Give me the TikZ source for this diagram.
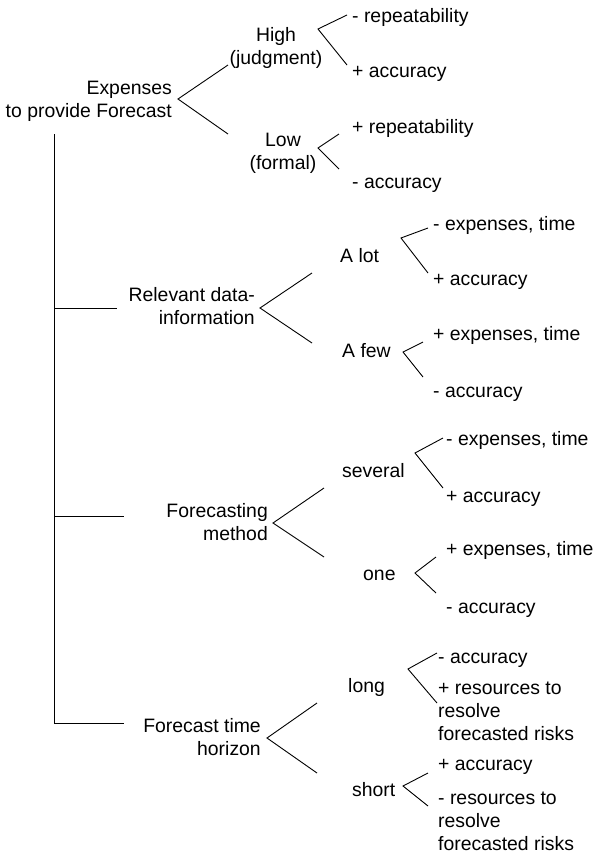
\documentclass[tikz,border=0pt]{standalone}
\usepackage{fontspec}
\setmainfont{Liberation Sans}
\usetikzlibrary{positioning,calc}

\begin{document}
\begin{tikzpicture}[x=1pt,y=-1pt,
    txt/.style={inner sep=0pt, font=\fontsize{19.4}{23}\selectfont},
    rtxt/.style={txt, align=right, anchor=base east},
    ctxt/.style={txt, align=center, anchor=base},
    leaf/.style={txt, align=left, anchor=base west},
    twig/.style={line width=0.9pt}]
  \useasboundingbox (0,0) rectangle (596,855);

  % Main questions
  \node[rtxt] (root) at (172,117) {Expenses\\to provide Forecast};
  \node[rtxt] (rel)  at (255,324) {Relevant data-\\information};
  \node[rtxt] (meth) at (268,540) {Forecasting\\method};
  \node[rtxt] (hor)  at (261,755) {Forecast time\\horizon};

  % Options
  \node[ctxt] (high) at (276,64)  {High\\(judgment)};
  \node[ctxt] (low)  at (283,169) {Low\\(formal)};
  \node[leaf] (alot) at (340,262) {A lot};
  \node[leaf] (afew) at (342,357) {A few};
  \node[leaf] (sev)  at (342,477) {several};
  \node[leaf] (one)  at (363,580) {one};
  \node[leaf] (long) at (348,692) {long};
  \node[leaf] (short) at (352,796) {short};

  % Consequences
  \node[leaf] (high1) at (352,22)  {- repeatability};
  \node[leaf] (high2) at (352,77)  {+ accuracy};
  \node[leaf] (low1)  at (352,133) {+ repeatability};
  \node[leaf] (low2)  at (352,188) {- accuracy};
  \node[leaf] (alot1) at (433,230) {- expenses, time};
  \node[leaf] (alot2) at (433,285) {+ accuracy};
  \node[leaf] (afew1) at (433,340) {+ expenses, time};
  \node[leaf] (afew2) at (433,397) {- accuracy};
  \node[leaf] (sev1)  at (446,445) {- expenses, time};
  \node[leaf] (sev2)  at (446,502) {+ accuracy};
  \node[leaf] (one1)  at (446,555) {+ expenses, time};
  \node[leaf] (one2)  at (446,613) {- accuracy};
  \node[leaf] (long1) at (438,663) {- accuracy};
  \node[leaf] (long2) at (438,740) {+ resources to\\resolve\\forecasted risks};
  \node[leaf] (short1) at (438,770) {+ accuracy};
  \node[leaf] (short2) at (438,850) {- resources to\\resolve\\forecasted risks};

  % Trunk
  \coordinate (top) at (54,134);
  \coordinate (bot) at (54,723);
  \coordinate (relIn)  at (117,308);
  \coordinate (methIn) at (124,516);
  \coordinate (horIn)  at (124,723);
  \draw[twig] (top) -- (bot) -- (horIn);
  \draw[twig] (top |- relIn) -- (relIn);
  \draw[twig] (top |- methIn) -- (methIn);

  % Fork apexes and ends
  \coordinate (rootF) at (178,99);  \coordinate (highIn) at (228,65);  \coordinate (lowIn) at (228,134);
  \coordinate (highF) at (318,29);  \coordinate (high1In) at (347,15); \coordinate (high2In) at (347,65);
  \coordinate (lowF)  at (318,148); \coordinate (low1In) at (339,134); \coordinate (low2In) at (339,169);
  \coordinate (relF)  at (260,308); \coordinate (alotIn) at (312,273); \coordinate (afewIn) at (312,343);
  \coordinate (alotF) at (401,238); \coordinate (alot1In) at (428,228); \coordinate (alot2In) at (428,273);
  \coordinate (afewF) at (403,352); \coordinate (afew1In) at (423,342); \coordinate (afew2In) at (423,377);
  \coordinate (methF) at (273,523); \coordinate (sevIn) at (324,488); \coordinate (oneIn) at (324,557);
  \coordinate (sevF)  at (415,453); \coordinate (sev1In) at (443,438); \coordinate (sev2In) at (443,488);
  \coordinate (oneF)  at (415,573); \coordinate (one1In) at (436,557); \coordinate (one2In) at (436,593);
  \coordinate (horF)  at (267,738); \coordinate (longIn) at (317,703); \coordinate (shortIn) at (317,773);
  \coordinate (longF) at (408,669); \coordinate (long1In) at (437,653); \coordinate (long2In) at (437,703);
  \coordinate (shortF) at (403,786); \coordinate (short1In) at (428,773); \coordinate (short2In) at (428,806);

  % Forks
  \foreach \f/\u/\d in {rootF/highIn/lowIn, highF/high1In/high2In, lowF/low1In/low2In,
      relF/alotIn/afewIn, alotF/alot1In/alot2In, afewF/afew1In/afew2In,
      methF/sevIn/oneIn, sevF/sev1In/sev2In, oneF/one1In/one2In,
      horF/longIn/shortIn, longF/long1In/long2In, shortF/short1In/short2In}
    \draw[twig] (\u) -- (\f) -- (\d);
\end{tikzpicture}
\end{document}
